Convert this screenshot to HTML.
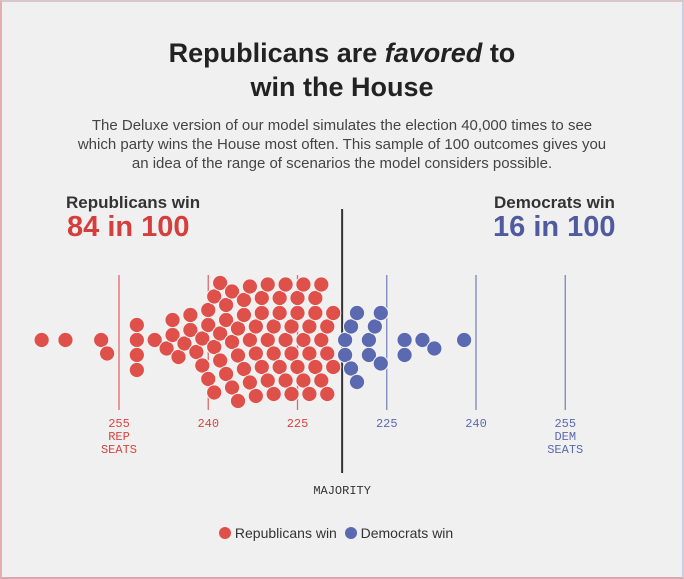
<!DOCTYPE html>
<html><head><meta charset="utf-8"><style>
html,body{margin:0;padding:0;width:684px;height:579px;overflow:hidden;background:#fff;font-family:"Liberation Sans",sans-serif}
#frame{position:absolute;left:0;top:0;width:680px;height:575px;border:2px solid;border-color:#d9c6c6 #c9cde0 #d8a8b0 #e0b0b0;background:#f0f0f0}
.t{position:absolute;white-space:nowrap}
</style></head><body>
<div id="frame"></div>
<div class="t" style="left:0;width:684px;top:36px;text-align:center;font-size:27px;font-weight:bold;color:#222;line-height:34px">Republicans are <i>favored</i> to<br>win the House</div>
<div class="t" style="left:0;width:684px;top:116px;text-align:center;font-size:15px;color:#444;line-height:19px">The Deluxe version of our model simulates the election 40,000 times to see<br>which party wins the House most often. This sample of 100 outcomes gives you<br>an idea of the range of scenarios the model considers possible.</div>
<div class="t" style="left:66px;top:193px;font-size:17px;font-weight:bold;color:#333">Republicans win</div>
<div class="t" style="left:67px;top:211px;font-size:29px;font-weight:bold;color:#d63d3d">84 in 100</div>
<div class="t" style="left:494px;top:193px;font-size:17px;font-weight:bold;color:#333">Democrats win</div>
<div class="t" style="left:493px;top:211px;font-size:29px;font-weight:bold;color:#4f5b9e">16 in 100</div>
<svg id="chart" width="684" height="579" style="position:absolute;left:0;top:0"></svg>
<div class="t" style="left:219px;top:525px;font-size:14px;color:#333">
<span><span style="display:inline-block;width:12px;height:12px;border-radius:6px;background:#e0504a;vertical-align:-1px"></span> Republicans win</span>
<span style="margin-left:4px"><span style="display:inline-block;width:12px;height:12px;border-radius:6px;background:#5b69b0;vertical-align:-1px"></span> Democrats win</span>
</div>
<script>
const repSeats=[268,264,258,257,252,252,252,252,249,247,246,246,245,244,243,243,242,241,241,240,240,240,239,239,239,238,238,238,237,237,237,236,236,236,235,235,235,234,234,234,233,233,233,232,232,232,231,231,231,230,230,230,229,229,229,228,228,228,227,227,227,226,226,226,225,225,225,224,224,224,223,223,223,222,222,222,221,221,221,220,220,220,219,219];
const demSeats=[218,218,219,219,220,220,222,223,222,224,224,228,228,231,233,238];
const repTicks=[255,240,225];
const demTicks=[225,240,255];
const total=435, majority=217.5;
const NS='http://www.w3.org/2000/svg';
const svg=document.getElementById('chart');
function xRep(s){return 119+(255-s)*5.95;}
function xDem(d){return xRep(total-d);}
const cy=340, r=7.6, D=14.6;
function mk(tag,attrs){const e=document.createElementNS(NS,tag);for(const k in attrs)e.setAttribute(k,attrs[k]);svg.appendChild(e);return e;}
function tickLabel(x,lines,color,nm){lines.forEach((t,i)=>{const e=mk('text',{x:x,y:427+i*13,'text-anchor':'middle','font-size':12,fill:color,'font-family':'Liberation Mono, monospace'});e.textContent=t;

});}
repTicks.forEach((s,i)=>{const x=xRep(s);const l=mk('line',{x1:x,x2:x,y1:275,y2:410,stroke:'#e06a66','stroke-width':1.3});


tickLabel(x,i==0?[String(s),'REP','SEATS']:[String(s)],'#d9443f','rep-tick-'+s);});
demTicks.forEach((s,i)=>{const x=xDem(s);const l=mk('line',{x1:x,x2:x,y1:275,y2:410,stroke:'#7d86b8','stroke-width':1.3});


tickLabel(x,i==2?[String(s),'DEM','SEATS']:[String(s)],'#5b69b0','dem-tick-'+s);});
const mx=xRep(majority);
const ml=mk('line',{x1:mx,x2:mx,y1:209,y2:473,stroke:'#333','stroke-width':2});


const mt=mk('text',{x:mx,y:494,'text-anchor':'middle','font-size':12,fill:'#333','font-family':'Liberation Mono, monospace'});mt.textContent='MAJORITY';


const pts=repSeats.map(s=>({x:xRep(s),p:'rep'})).concat(demSeats.map(d=>({x:xDem(d),p:'dem'})));
pts.sort((a,b)=>a.x-b.x);
const placed=[];
pts.forEach(pt=>{let best=cy;
 for(let k=0;k<400;k++){const off=Math.ceil(k/2)*(k%2?1:-1)*0.5;const y=cy+off;
  if(placed.every(q=>(q.x-pt.x)**2+(q.y-y)**2>=D*D)){best=y;break;}}
 pt.y=best;placed.push(pt);
 const c=mk('circle',{cx:pt.x,cy:pt.y,r:r,fill:pt.p=='rep'?'#e0504a':'#5b69b0',stroke:'#f3f3f3','stroke-width':1});
 
 
});
</script>
</body></html>
